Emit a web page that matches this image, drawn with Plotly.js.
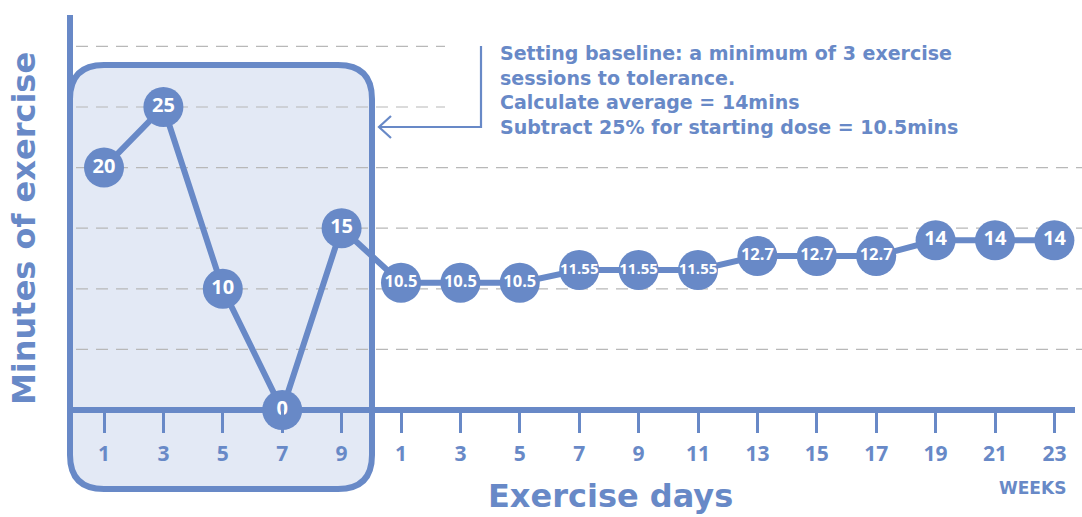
<!DOCTYPE html>
<html>
<head>
<meta charset="utf-8">
<script src="https://cdn.plot.ly/plotly-3.0.1.min.js"></script>
<style>html,body{margin:0;padding:0;background:#fff;}#chart{width:1082px;height:517px;}</style>
</head>
<body>
<div id="chart"></div>
<script>
// ---- data ----
const tickLabels = ['1','3','5','7','9','1','3','5','7','9','11','13','15','17','19','21','23'];
const minutes = [20, 25, 10, 0, 15, 10.5, 10.5, 10.5, 11.55, 11.55, 11.55, 12.7, 12.7, 12.7, 14, 14, 14];
const gridValues = [5, 10, 15, 20, 25, 30];
const noteLines = [
  'Setting baseline: a minimum of 3 exercise',
  'sessions to tolerance.',
  'Calculate average = 14mins',
  'Subtract 25% for starting dose = 10.5mins'
];

// ---- styling ----
const BLUE = '#6889c7';
const FILL = '#e3e9f5';
const GRID = '#b8b8b8';
const FONT = '"Open Sans", Lato, sans-serif';
const WIDE = '"DejaVu Sans", "Open Sans", sans-serif';
const W = 1082, H = 517;
const M = {l: 70, r: 7, t: 15, b: 107};
const PW = W - M.l - M.r, PH = H - M.t - M.b;
const px = x => (x - M.l) / PW;          // pixel x -> paper x
const py = y => (H - M.b - y) / PH;      // pixel y -> paper y

const xIdx = minutes.map((_, i) => i);

function roundedRect(x0, y0, x1, y1, r) {
  const P = (x, y) => px(x) + ',' + py(y);
  return 'M' + P(x0 + r, y0) + ' L' + P(x1 - r, y0) + ' Q' + P(x1, y0) + ' ' + P(x1, y0 + r) +
         ' L' + P(x1, y1 - r) + ' Q' + P(x1, y1) + ' ' + P(x1 - r, y1) +
         ' L' + P(x0 + r, y1) + ' Q' + P(x0, y1) + ' ' + P(x0, y1 - r) +
         ' L' + P(x0, y0 + r) + ' Q' + P(x0, y0) + ' ' + P(x0 + r, y0) + ' Z';
}
const P2 = (x, y) => px(x) + ',' + py(y);

const shapes = [];
// rounded baseline box
shapes.push({type: 'path', xref: 'paper', yref: 'paper', layer: 'below',
  path: roundedRect(70, 65, 372, 489, 34), fillcolor: FILL, line: {color: BLUE, width: 6}});
// dashed gridlines
gridValues.forEach(v => {
  shapes.push({type: 'line', xref: 'paper', yref: 'y', layer: 'below',
    x0: px(76), x1: v >= 25 ? px(445) : px(1082), y0: v, y1: v,
    line: {color: GRID, width: 1.2, dash: '12px,8px'}});
});
// axis lines
shapes.push({type: 'line', xref: 'paper', yref: 'paper', layer: 'below',
  x0: px(70), x1: px(70), y0: py(15), y1: py(410), line: {color: BLUE, width: 6}});
shapes.push({type: 'line', xref: 'paper', yref: 'paper', layer: 'below',
  x0: px(70), x1: px(1075), y0: py(410), y1: py(410), line: {color: BLUE, width: 6}});
// bracket arrow
shapes.push({type: 'path', xref: 'paper', yref: 'paper', layer: 'above',
  path: 'M' + P2(481, 46) + ' L' + P2(481, 127) + ' L' + P2(379, 127),
  line: {color: BLUE, width: 2.2}});
shapes.push({type: 'path', xref: 'paper', yref: 'paper', layer: 'above',
  path: 'M' + P2(391, 116) + ' L' + P2(379, 127) + ' L' + P2(391, 138),
  line: {color: BLUE, width: 2.2}});

const trace = {
  type: 'scatter', mode: 'lines+markers+text',
  x: xIdx, y: minutes,
  text: minutes.map(v => String(v)),
  textposition: 'middle center',
  textfont: {color: '#ffffff', family: FONT, weight: 'bold',
    size: minutes.map(v => Number.isInteger(v) ? 20 : (String(v).length > 4 ? 15 : 16.5))},
  line: {color: BLUE, width: 6},
  marker: {color: BLUE, size: 40, line: {width: 0}},
  cliponaxis: false, hoverinfo: 'skip', showlegend: false
};

const layout = {
  width: W, height: H,
  margin: M,
  paper_bgcolor: '#ffffff', plot_bgcolor: 'rgba(0,0,0,0)',
  font: {family: FONT, color: BLUE},
  showlegend: false,
  xaxis: {
    range: [(70 - 104) / 59.4, (1075 - 104) / 59.4],
    tickmode: 'array', tickvals: xIdx, ticktext: tickLabels,
    ticks: 'outside', ticklen: 22, tickwidth: 3, tickcolor: BLUE,
    showline: false, showgrid: false, zeroline: false,
    tickfont: {family: FONT, size: 21, weight: 'bold', color: BLUE},
    ticklabelstandoff: 3,
    fixedrange: true
  },
  yaxis: {
    range: [0, (410 - 15) / 12.12],
    showticklabels: false, ticks: '', showgrid: false, showline: false, zeroline: false,
    fixedrange: true
  },
  shapes: shapes,
  annotations: [
    {xref: 'paper', yref: 'paper', x: px(610), y: py(496), xanchor: 'center', yanchor: 'middle',
      text: 'Exercise days', showarrow: false,
      font: {family: WIDE, size: 32, weight: 'bold', color: BLUE}},
    {xref: 'paper', yref: 'paper', x: px(24), y: py(229), xanchor: 'center', yanchor: 'middle',
      text: 'Minutes of exercise', textangle: -90, showarrow: false,
      font: {family: WIDE, size: 32, weight: 'bold', color: BLUE}},
    {xref: 'paper', yref: 'paper', x: px(1032), y: py(488), xanchor: 'center', yanchor: 'middle',
      text: 'WEEKS', showarrow: false,
      font: {family: WIDE, size: 17, weight: 'bold', color: BLUE}},
    {xref: 'paper', yref: 'paper', x: px(498), y: py(90), xanchor: 'left', yanchor: 'middle',
      align: 'left', text: noteLines.join('<br>'), showarrow: false,
      font: {family: WIDE, size: 19, weight: 'bold', color: BLUE}}
  ]
};

Plotly.newPlot('chart', [trace], layout, {displayModeBar: false, staticPlot: true});
</script>
</body>
</html>
